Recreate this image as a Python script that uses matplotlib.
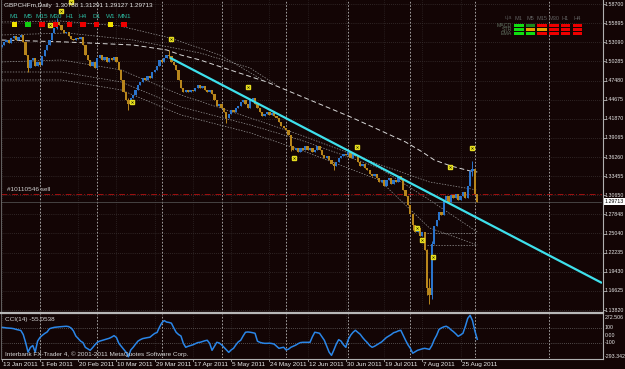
import matplotlib
matplotlib.use('Agg')
import matplotlib.pyplot as plt
import numpy as np

# ---- chart data (daily GBPCHF bars, 13 Jan 2011 .. 2 Sep 2011) ----
closes = [
    1.527, 1.531, 1.534, 1.530, 1.537, 1.540, 1.534, 1.539, 1.541, 1.531,
    1.512, 1.493, 1.505, 1.508, 1.496, 1.502, 1.498, 1.511, 1.520, 1.527,
    1.534, 1.545, 1.552, 1.561, 1.556, 1.549, 1.545, 1.546, 1.540, 1.536,
    1.534, 1.537, 1.536, 1.539, 1.527, 1.512, 1.505, 1.496, 1.502, 1.493,
    1.508, 1.512, 1.505, 1.509, 1.502, 1.508, 1.505, 1.509, 1.502, 1.490,
    1.476, 1.458, 1.446, 1.440, 1.449, 1.454, 1.461, 1.468, 1.473, 1.479,
    1.476, 1.481, 1.479, 1.487, 1.490, 1.496, 1.505, 1.502, 1.508, 1.512,
    1.511, 1.502, 1.498, 1.490, 1.476, 1.464, 1.458, 1.461, 1.458, 1.461,
    1.459, 1.464, 1.468, 1.464, 1.467, 1.461, 1.458, 1.461, 1.455, 1.446,
    1.437, 1.440, 1.434, 1.429, 1.420, 1.426, 1.432, 1.429, 1.434, 1.437,
    1.443, 1.446, 1.440, 1.434, 1.446, 1.449, 1.440, 1.434, 1.429, 1.423,
    1.426, 1.429, 1.424, 1.427, 1.423, 1.420, 1.414, 1.408, 1.405, 1.402,
    1.395, 1.379, 1.373, 1.376, 1.370, 1.376, 1.373, 1.379, 1.373, 1.376,
    1.370, 1.373, 1.379, 1.373, 1.366, 1.361, 1.364, 1.358, 1.352, 1.349,
    1.355, 1.361, 1.364, 1.367, 1.366, 1.370, 1.361, 1.367, 1.364, 1.355,
    1.349, 1.352, 1.346, 1.344, 1.338, 1.335, 1.338, 1.332, 1.326, 1.329,
    1.320, 1.329, 1.332, 1.323, 1.329, 1.326, 1.335, 1.329, 1.314, 1.305,
    1.292, 1.279, 1.263, 1.253, 1.258, 1.247, 1.253, 1.226, 1.170, 1.160,
    1.235, 1.262, 1.270, 1.282, 1.277, 1.299, 1.305, 1.296, 1.307, 1.303,
    1.308, 1.299, 1.305, 1.311, 1.303, 1.320, 1.342, 1.345, 1.30788, 1.29713,
]
first_open = 1.524

# bars with wicks long enough to show
wick_bars = [11, 23, 53, 70, 94, 121, 139, 172, 178, 179, 180, 197]
wick_hi = [1.512, 1.566, 1.449, 1.520, 1.426, 1.395, 1.355, 1.279, 1.228, 1.185, 1.240, 1.356]
wick_lo = [1.488, 1.550, 1.432, 1.508, 1.412, 1.372, 1.344, 1.255, 1.160, 1.1475, 1.155, 1.335]

cci = [
    108, 105, 100, 98, 95, 90, 80, 72, 65, 10,
    -100, -230, -165, -140, -230, -80, -30, 0, 25, 45,
    90, 100, 108, 112, 115, 118, 120, 123, 118, 100,
    60, -10, -45, -80, -100, -165, -185, -205, -170, -130,
    -96, -80, -70, -60, -50, -41, -25, -5, -30, -110,
    -150, -190, -230, -293.342, -200, -164, -120, -80, -60, -45,
    -38, -32, -27, 0, 25, 38, 110, 170, 200, 180,
    175, 165, 100, 40, 10, -10, -110, -164, -150, -140,
    -130, -115, -100, -96, -85, -75, -68, -110, -205, -150,
    -96, -105, -130, -164, -200, -233, -200, -178, -130, -90,
    -68, -10, 41, 45, 41, 35, 27, -80, -96, -105,
    -110, -110, -108, -112, -120, -150, -178, -170, -164, -200,
    -190, -164, -150, -135, -115, -100, -96, -96, -96, -96,
    -20, 41, 35, 27, -20, -68, -150, -230, -274, -200,
    -120, -60, -80, -130, -164, -60, 0, 40, 68, 40,
    14, -30, -68, -100, -140, -164, -150, -130, -110, -90,
    -60, -30, -10, 10, 35, 45, 60, 68, 0, -68,
    -130, -178, -245, -225, -205, -195, -185, -178, -185, -192,
    -140, -60, 0, 80, 100, 115, 123, 105, 75, 50,
    20, -14, 5, 27, 120, 230, 272.506, 200, 60, -55.0538,
]

# long moving average (white dashed) and envelope bands, (bar, price)
ma_x = [0, 27, 55, 69, 75, 83, 93, 111, 129, 146, 158, 169, 176, 181, 188, 196, 199]
ma_y = [1.5342, 1.5313, 1.5269, 1.5196, 1.5122, 1.5049, 1.4932, 1.4726, 1.4462,
        1.4213, 1.4022, 1.3846, 1.3700, 1.3582, 1.3494, 1.3421, 1.3406]
band_x = [0, 25, 50, 75, 104, 125, 158, 179, 199]
band1_y = [1.5020, 1.5049, 1.4903, 1.4536, 1.4199, 1.3949, 1.3517, 1.3260, 1.3142]
band2_y = [1.4873, 1.4873, 1.4727, 1.4360, 1.4096, 1.3876, 1.3465, 1.2996, 1.2526]
band3_y = [1.4756, 1.4756, 1.4609, 1.4243, 1.3980, 1.3729, 1.3289, 1.2585, 1.2336]
up1_x = [0, 24.4, 49.5, 70.4, 91.3, 110]
up1_y = [1.5606, 1.5621, 1.5548, 1.5372, 1.5122, 1.4740]
up2_x = [0, 27.3, 55, 83, 103.9, 115]
up2_y = [1.5416, 1.5445, 1.5342, 1.5152, 1.4932, 1.4680]
flat_x = [178, 199]
flat_levels = [1.2512, 1.2336]

trend_x = [70.4, 251.2]
trend_y = [1.5082, 1.1778]

order_price = 1.3084
marker_x = [20, 25, 29, 54.5, 71, 103, 122.4, 148.7, 173.8, 176, 180.5, 187.6, 196.8]
marker_y = [1.556, 1.577, 1.590, 1.443, 1.536, 1.465, 1.361, 1.377, 1.258, 1.241, 1.216, 1.348, 1.376]

month_starts = [16, 40, 67, 92, 119, 145, 171, 198, 229]
date_labels = ['13 Jan 2011', '1 Feb 2011', '20 Feb 2011', '10 Mar 2011', '29 Mar 2011',
               '17 Apr 2011', '5 May 2011', '24 May 2011', '12 Jun 2011', '30 Jun 2011',
               '19 Jul 2011', '7 Aug 2011', '25 Aug 2011']
price_labels = [1.58700, 1.55895, 1.53090, 1.50285, 1.47480, 1.44675, 1.41870, 1.39065,
                1.36260, 1.33455, 1.30650, 1.27848, 1.25040, 1.22235, 1.19430, 1.16625, 1.13820]
cci_labels = [272.506, 100, 0.0, -100, -293.342]

tf_names = ['M1', 'M5', 'M15', 'M30', 'H1', 'H4', 'D1', 'W1', 'MN1']
tf_colors = ['#f0e000', '#10d010', '#ee0000', '#ee0000', '#ee0000', '#ee0000', '#ee0000', '#f0e000', '#ee0000']
panel_cols = ['M1', 'M5', 'M15', 'M30', 'H1', 'H4']
panel_rows = ['MACD', 'STR', 'EMA']
panel_colors = [
    ['#10e010', '#1a8a1a', '#ee0000', '#ee0000', '#ee0000', '#ee0000'],
    ['#10e010', '#e8a000', '#e8a000', '#ee0000', '#ee0000', '#ee0000'],
    ['#10e010', '#10e010', '#ee0000', '#ee0000', '#ee0000', '#ee0000'],
]

# ---- style ----
bg = '#130505'
bull = '#2a74cc'
bear = '#b8861c'
fg = '#e8e8e8'
font = 'Liberation Sans'
fs = 4.6
fs_axis = 3.8

W, H = 625, 369
fig = plt.figure(figsize=(W / 100, H / 100), dpi=100, facecolor=bg)

def rect(x0, y0, x1, y1):
    return [x0 / W, (H - y1) / H, (x1 - x0) / W, (y1 - y0) / H]

ax = fig.add_axes(rect(1.5, 0, 602, 312.5), facecolor=bg)
ax2 = fig.add_axes(rect(1.5, 314, 602, 358), facecolor=bg, sharex=ax)

n = len(closes)
xs = np.arange(n)
opens = [first_open] + closes[:-1]

ax.set_xlim(-0.1, 251.2)
ax.set_ylim(1.1345, 1.5929)
ax2.set_ylim(-310, 290)

for a in (ax, ax2):
    for s in a.spines.values():
        s.set_visible(False)
    a.set_xticks([])
    a.set_yticks([])

# grid
for p in price_labels:
    ax.axhline(p, color='#4a4444', lw=0.5, ls=(0, (1, 2)), zorder=0)
for i in range(len(date_labels)):
    ax.axvline(i * 16, color='#3a3434', lw=0.5, ls=(0, (1, 2)), zorder=0)
    ax2.axvline(i * 16, color='#3a3434', lw=0.5, ls=(0, (1, 2)), zorder=0)
for m in month_starts:
    ax.axvline(m, color='#b8b8b8', lw=0.6, ls=(0, (2, 2)), zorder=1)
    ax2.axvline(m, color='#b8b8b8', lw=0.6, ls=(0, (2, 2)), zorder=1)

# envelopes and average
ax.plot(ma_x, ma_y, color='#d8d8d8', lw=0.7, ls=(0, (5, 3)), zorder=2)
for bx, by in ((band_x, band1_y), (band_x, band2_y), (band_x, band3_y),
               (up1_x, up1_y), (up2_x, up2_y)):
    ax.plot(bx, by, color='#9a9a9a', lw=0.5, ls=(0, (2, 2)), zorder=2)
for lv in flat_levels:
    ax.plot(flat_x, [lv, lv], color='#9a9a9a', lw=0.5, ls=(0, (2, 2)), zorder=2)

# order line and bid line
ax.axhline(order_price, color='#a01010', lw=0.7, ls=(0, (6, 2, 1, 2)), zorder=2)
ax.axhline(closes[-1], color='#5a5a5a', lw=0.5, zorder=2)
ax.text(2, order_price + 0.003, '#10110546 sell', color='#d0d0d0', fontsize=fs,
        family=font, va='bottom', ha='left')

# candles
highs = [max(o, c) for o, c in zip(opens, closes)]
lows = [min(o, c) for o, c in zip(opens, closes)]
for b, h, l in zip(wick_bars, wick_hi, wick_lo):
    highs[b] = max(highs[b], h)
    lows[b] = min(lows[b], l)
cols = [bull if c >= o else bear for o, c in zip(opens, closes)]
ax.vlines(xs, lows, highs, colors=cols, lw=0.7, zorder=3)
ax.bar(xs, np.array(closes) - np.array(opens), bottom=opens, width=0.95,
       color=cols, linewidth=0, zorder=3)

# trendline
ax.plot(trend_x, trend_y, color='#3ee0ec', lw=1.6, zorder=4, solid_capstyle='butt')

# fractal-like markers
ax.plot(marker_x, marker_y, ls='none', marker='s', ms=2.3, mfc='#e8e020', mec='#e8e020', zorder=5)
ax.plot(marker_x, marker_y, ls='none', marker='x', ms=1.6, mec='#303000', mew=0.4, zorder=6)

# CCI
ax2.axhline(100, color='#8a8a8a', lw=0.5, ls=(0, (1, 2)))
ax2.axhline(-100, color='#8a8a8a', lw=0.5, ls=(0, (1, 2)))
ax2.plot(xs, cci, color='#2a86e8', lw=1.1, zorder=3)
ax2.text(0.006, 0.93, 'CCI(14) -55.0538', transform=ax2.transAxes, color='#d8d8d8',
         fontsize=fs, family=font, va='top')
ax2.text(0.006, 0.03, 'Interbank FX-Trader 4, \u00a9 2001-2011 MetaQuotes Software Corp.',
         transform=ax2.transAxes, color='#d8d8d8', fontsize=fs, family=font, va='bottom')

# overlay for frames and labels in pixel coordinates
ov = fig.add_axes([0, 0, 1, 1], facecolor='none')
ov.set_xlim(0, W)
ov.set_ylim(H, 0)
ov.axis('off')
ov.plot([602.5, 602.5], [0, 358.5], color='#b0b0b0', lw=0.8)
ov.plot([1, 602.5], [358.5, 358.5], color='#b0b0b0', lw=0.8)
ov.plot([1, 1], [0, 358.5], color='#707070', lw=0.6)
ov.plot([1, 602.5], [313, 313], color='#b8b8b8', lw=1.6)

# price scale labels
def py(p):
    return (1.5929 - p) * 681.8

for p in price_labels:
    ov.plot([602.5, 604.5], [py(p), py(p)], color='#b0b0b0', lw=0.6)
    ov.text(604.5, py(p), '%.5f' % p, color=fg, fontsize=fs_axis, family=font, va='center', ha='left')
ov.text(604.5, py(closes[-1]), '%.5f' % closes[-1], color='black', fontsize=fs_axis, family=font,
        va='center', ha='left', bbox=dict(boxstyle='square,pad=0.15', fc='white', ec='none'))

def cy(v):
    return 314 + (290 - v) / 600 * 44

for v in cci_labels:
    txt = '%.2f' % v if v == 0 else ('%g' % v)
    yy = cy(v)
    if v > 200:
        yy += 2
    ov.text(604.5, yy, txt, color=fg, fontsize=fs_axis, family=font, va='center', ha='left')

# date labels
for i, lab in enumerate(date_labels):
    xp = 1.7 + i * 16 * 2.39
    ov.plot([xp, xp], [358.5, 361], color='#b0b0b0', lw=0.6)
    ov.text(xp + 1, 364.5, lab, color=fg, fontsize=fs, family=font, va='center', ha='left')

# header
ov.text(4, 5.5, 'GBPCHFm,Daily  1.30788 1.31291 1.29127 1.29713', color=fg,
        fontsize=fs, family=font, va='center', ha='left')
for i, (nm, c) in enumerate(zip(tf_names, tf_colors)):
    cx = 14.5 + i * 13.7
    ov.text(cx, 17, nm, color='#2bb8a0', fontsize=fs, family=font, va='center', ha='center')
    ov.add_patch(plt.Rectangle((cx - 2.8, 22), 5.6, 5.4, color=c, lw=0))

# signal panel top right
ov.text(508, 17.5, 'uja', color='#505050', fontsize=fs - 0.6, family=font, va='center', ha='center')
for j, nm in enumerate(panel_cols):
    x0 = 514 + j * 11.7
    ov.text(x0 + 4.7, 18.5, nm, color='#606060', fontsize=fs - 0.6, family=font, va='center', ha='center')
    for r in range(len(panel_rows)):
        ov.add_patch(plt.Rectangle((x0, 24.2 + r * 3.9), 9.6, 2.8, color=panel_colors[r][j], lw=0))
for r, nm in enumerate(panel_rows):
    ov.text(512, 25.6 + r * 3.9, nm, color='#607060', fontsize=fs - 0.8, family=font, va='center', ha='right')

fig.savefig('out.png', dpi=100, facecolor=bg)
